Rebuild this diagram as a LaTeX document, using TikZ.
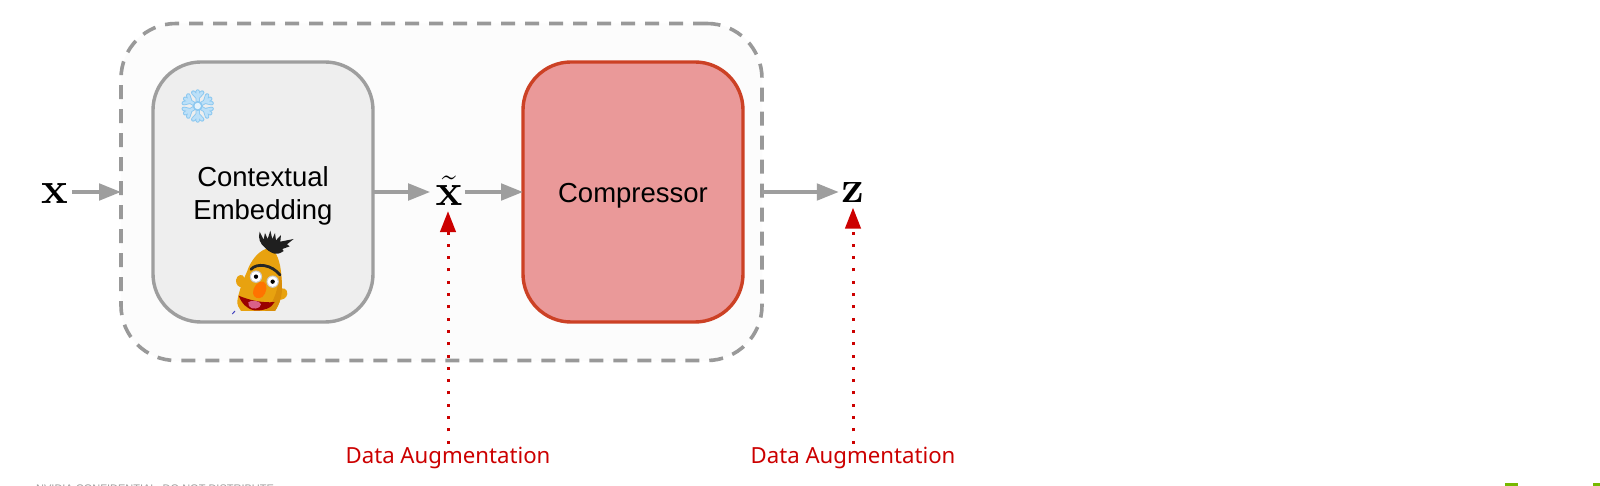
\RequirePackage{fix-cm}
\documentclass[tikz,border=0pt]{standalone}
\usepackage[no-math]{fontspec}
\setmainfont{Liberation Sans}
\newfontfamily\labfont{Noto Sans}
\usetikzlibrary{arrows.meta}
\definecolor{linegray}{HTML}{9E9E9E}
\definecolor{dashgray}{HTML}{999999}
\definecolor{boxgray}{HTML}{EEEEEE}
\definecolor{outerfill}{HTML}{FCFCFC}
\definecolor{redfill}{HTML}{EA9999}
\definecolor{redline}{HTML}{CC4125}
\definecolor{augred}{HTML}{CC0000}
\definecolor{nvgreen}{HTML}{76B900}
\definecolor{bertbody}{HTML}{E8A20F}
\definecolor{bertdark}{HTML}{D98E0A}
\definecolor{flake}{HTML}{A6D6F5}
\definecolor{flakedark}{HTML}{8CC8F0}
\tikzset{
  x=1pt,y=-1pt,
  flow/.style={draw=linegray,line width=3.6pt,-{Triangle[length=22pt,width=16.5pt]}},
  aug/.style={draw=augred,line width=3pt,dash pattern=on 3pt off 9.3pt,-{Triangle[length=21pt,width=15.5pt]}},
  ctxbox/.style={draw=linegray,fill=boxgray,line width=3.4pt,rounded corners=48pt,minimum width=220pt,minimum height=260pt,inner sep=0pt,outer sep=0pt},
  compbox/.style={draw=redline,fill=redfill,line width=3.4pt,rounded corners=48pt,minimum width=220pt,minimum height=260pt,inner sep=0pt,outer sep=0pt},
  outerbox/.style={draw=dashgray,fill=outerfill,line width=3.6pt,dash pattern=on 14pt off 10pt,rounded corners=55pt,minimum width=641pt,minimum height=337pt,inner sep=0pt,outer sep=0pt},
  boxtext/.style={font=\fontsize{27.5}{33}\selectfont,align=center,inner sep=0pt},
  mathvar/.style={font=\fontsize{45}{45}\selectfont,inner xsep=3pt,inner ysep=5.5pt,outer sep=0pt,anchor=base,text depth=0pt},
  auglabel/.style={font=\labfont\fontsize{22.2}{26}\selectfont,text=augred,inner sep=0pt,anchor=base,outer ysep=3pt},
  footer/.style={font=\fontsize{11}{13}\selectfont,text=linegray,inner sep=0pt,anchor=base west},
}
\begin{document}
\begin{tikzpicture}
\useasboundingbox (0,0) rectangle (1600,486);
\fill[white] (0,0) rectangle (1600,486);

% boxes
\node[outerbox] (outer) at (441.5,192) {};
\node[ctxbox] (ctx) at (263,192) {};
\node[compbox] (comp) at (633,192) {};

% box texts
\node[boxtext,anchor=base] (ctxa) at (263,187) {Contextual};
\node[boxtext,anchor=base] (ctxb) at (263,219.5) {Embedding};
\node[boxtext] (comptxt) at (633,196) {Compressor};

% variables
\node[mathvar,inner xsep=4.5pt] (x) at (54.5,204) {$\mathbf{x}$};
\node[mathvar,inner xsep=2.5pt] (xt) at (449,205.7) {$\tilde{\mathbf{x}}$};
\node[mathvar,inner xsep=2.5pt] (z) at (852.5,202.2) {$\mathbf{z}$};

% labels
\node[auglabel] (laba) at (448,463) {Data Augmentation};
\node[auglabel] (labb) at (853,463) {Data Augmentation};

% connectors
\draw[flow] (x.east |- outer.west) -- (outer.west);
\draw[flow,shorten >=3pt] (ctx.east) -- (xt.west |- ctx.east);
\draw[flow] (xt.east |- comp.west) -- (comp.west);
\draw[flow] (outer.east) -- (z.west |- outer.east);
\draw[aug] (laba.north) -- (laba.north |- xt.south);
\draw[aug] (labb.north) -- (labb.north |- z.south);

% snowflake
\begin{scope}[shift={(197.7,106)}]
  \foreach \a in {30,90,150,210,270,330}{
    \begin{scope}[rotate=\a]
      \draw[flakedark,line width=4.4pt,line cap=round,line join=round] (0,0) -- (14.5,0) (8.5,0) -- (13.5,-4.5) (8.5,0) -- (13.5,4.5);
      \draw[flake!75!white,line width=2.6pt,line cap=round,line join=round] (0,0) -- (14.5,0) (8.5,0) -- (13.5,-4.5) (8.5,0) -- (13.5,4.5);
    \end{scope}
  }
  \fill[flakedark] (0,0) circle (5);
  \fill[white!70!flake] (0,0) circle (3.2);
\end{scope}

% puppet
\begin{scope}[shift={(225,225)},x=0.3333pt,y=-0.3333pt]
  \fill[bertbody] (33,165) .. controls (35,148) and (55,145) .. (58,158) -- (55,188) .. controls (42,188) and (32,180) .. (33,165) -- cycle;
  \fill[bertbody] (160,195) .. controls (172,185) and (188,190) .. (187,207) .. controls (185,220) and (172,226) .. (160,224) -- cycle;
  \fill[bertbody] (122,72) .. controls (100,80) and (78,105) .. (66,140)
     .. controls (52,170) and (40,205) .. (37,228) .. controls (36,240) and (42,250) .. (48,258)
     -- (150,258) .. controls (162,240) and (172,215) .. (171,185)
     .. controls (170,140) and (165,100) .. (147,78) .. controls (140,72) and (130,70) .. (122,72) -- cycle;
  \fill[bertdark] (150,258) .. controls (162,240) and (172,215) .. (171,185) .. controls (170,165) and (168,150) .. (165,135) .. controls (160,190) and (150,230) .. (120,258) -- cycle;
  % hair
  \fill[black!88] (118,66) .. controls (106,56) and (98,40) .. (104,20)
     -- (116,44) -- (120,24) -- (128,42) -- (136,17) -- (142,42) -- (150,24) -- (153,46)
     -- (168,30) -- (166,50) -- (206,42) -- (186,58) -- (194,64) -- (172,72) -- (176,78)
     .. controls (165,86) and (155,88) .. (148,86) .. controls (135,82) and (125,74) .. (118,66) -- cycle;
  \draw[black!85,line width=2.8pt,line cap=round] (78,133) .. controls (95,113) and (140,118) .. (165,150);
  \fill[black!20] (93,155) circle (18.5);
  \fill[white] (93,155) circle (15.5);
  \fill[black] (93,155) circle (6.5);
  \fill[black!20] (143,170) circle (18.5);
  \fill[white] (143,170) circle (15.5);
  \fill[black] (143,170) circle (6.5);
  \fill[red!60!black] (41,212) .. controls (70,225) and (115,235) .. (149,231) .. controls (140,250) and (115,258) .. (88,256) .. controls (65,252) and (50,235) .. (41,212) -- cycle;
  \fill[red!55!white!85!blue] (70,232) .. controls (78,224) and (105,226) .. (108,238) .. controls (108,252) and (78,256) .. (72,243) -- cycle;
  \fill[orange!90!red] (84,205) .. controls (82,188) and (100,165) .. (116,170) .. controls (130,178) and (125,205) .. (112,216) .. controls (100,224) and (86,218) .. (84,205) -- cycle;
  \draw[blue!50!gray,line width=1pt] (22,267) -- (30,258);
\end{scope}

% page bottom
\begin{scope}
  \clip (0,0) rectangle (1600,486);
  \node[footer] (foot) at (36,492) {NVIDIA CONFIDENTIAL. DO NOT DISTRIBUTE};
  \fill[nvgreen] (1505,483) rectangle (1518,486);
  \fill[nvgreen] (1593,483) rectangle (1600,486);
\end{scope}
\end{tikzpicture}
\end{document}
